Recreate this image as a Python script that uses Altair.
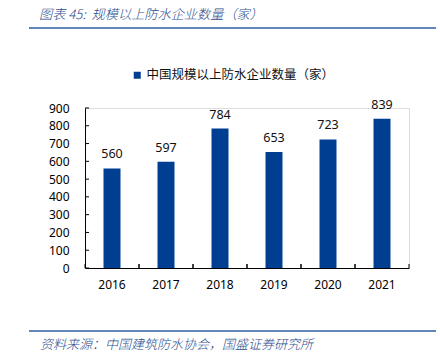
import altair as alt
import pandas as pd

years = ["2016", "2017", "2018", "2019", "2020", "2021"]
counts = [560, 597, 784, 653, 723, 839]
series_name = "中国规模以上防水企业数量（家）"
header = "图表 45:\u00a0\u00a0规模以上防水企业数量（家）"
source = "资料来源：中国建筑防水协会，国盛证券研究所"
y_ticks = [0, 100, 200, 300, 400, 500, 600, 700, 800, 900]

BAR = "#003E92"
HEAD = "#2B4C8E"
LINE = "#2E5DA6"
CJK = "Noto Sans CJK SC"
NUM = "Noto Sans"

df = pd.DataFrame({"year": years, "count": counts, "series": [series_name] * len(years)})
tick_df = pd.DataFrame({"v": y_ticks})

x_scale = alt.Scale(paddingInner=0, paddingOuter=0)
x_axis = alt.Axis(title=None, labelAngle=0, ticks=False, labelPadding=11,
                  labelFontSize=12, labelFont=NUM, labelColor="#000", domainColor="#000")
y_scale = alt.Scale(domain=[0, 900], nice=False)
y_axis = alt.Axis(title=None, values=y_ticks, grid=False, ticks=False,
                  labelOverlap=False, labelFlush=False, labelPadding=16,
                  labelFontSize=12, labelFont=NUM, labelColor="#000", domainColor="#000")
x_enc = alt.X("year:N", scale=x_scale, axis=x_axis)
y_enc = alt.Y("count:Q", scale=y_scale, axis=y_axis)

base = alt.Chart(df)
bars = base.mark_bar(size=17).encode(
    x=x_enc, y=y_enc,
    color=alt.Color("series:N", scale=alt.Scale(range=[BAR]),
                    legend=alt.Legend(orient="none", legendX=46, legendY=-39, title=None,
                                      symbolType="square", symbolSize=49, symbolStrokeWidth=0,
                                      labelFontSize=12.5, labelFont=CJK, labelColor="#111",
                                      labelOffset=3, labelLimit=400)),
)
labels = base.mark_text(baseline="bottom", dy=-7, fontSize=12.5, font=NUM, color="#111").encode(
    x=x_enc, y=y_enc, text="count:Q")

# inward tick marks
y_tick_marks = alt.Chart(tick_df).mark_rule(color="#000", strokeWidth=1).encode(
    y=alt.Y("v:Q", scale=y_scale, axis=y_axis), x=alt.value(0), x2=alt.value(4))
x_tick_start = base.mark_rule(color="#000", strokeWidth=1).encode(
    x=alt.X("year:N", scale=x_scale, axis=x_axis, bandPosition=0),
    y=alt.value(160), y2=alt.value(156))
x_tick_end = base.mark_rule(color="#000", strokeWidth=1).encode(
    x=alt.X("year:N", scale=x_scale, axis=x_axis, bandPosition=1),
    y=alt.value(160), y2=alt.value(156))

hdr = alt.Chart(pd.DataFrame({"t": [header]})).mark_text(
    align="left", baseline="middle", fontSize=13.2, font=CJK, fontStyle="italic",
    fontWeight=300, color=HEAD
).encode(x=alt.value(-46), y=alt.value(-93), text="t:N")
src = alt.Chart(pd.DataFrame({"t": [source]})).mark_text(
    align="left", baseline="middle", fontSize=13, font=CJK, fontStyle="italic",
    fontWeight=300, color=HEAD
).encode(x=alt.value(-45), y=alt.value(237), text="t:N")
top_line = alt.Chart(pd.DataFrame({"a": [0]})).mark_rule(color=LINE, strokeWidth=1.5).encode(
    x=alt.value(-56), x2=alt.value(351), y=alt.value(-80))
bot_line = alt.Chart(pd.DataFrame({"a": [0]})).mark_rule(color=LINE, strokeWidth=1.5).encode(
    x=alt.value(-56), x2=alt.value(351), y=alt.value(223))

chart = alt.layer(bars, labels, y_tick_marks, x_tick_start, x_tick_end,
                  hdr, src, top_line, bot_line).properties(
    width=324, height=160,
    autosize=alt.AutoSizeParams(type="none"),
    padding={"left": 85, "top": 108, "right": 31, "bottom": 84},
).configure_view(stroke=None).configure(background="white")

chart.save("out.html", embed_options={"renderer": "svg", "actions": False})
